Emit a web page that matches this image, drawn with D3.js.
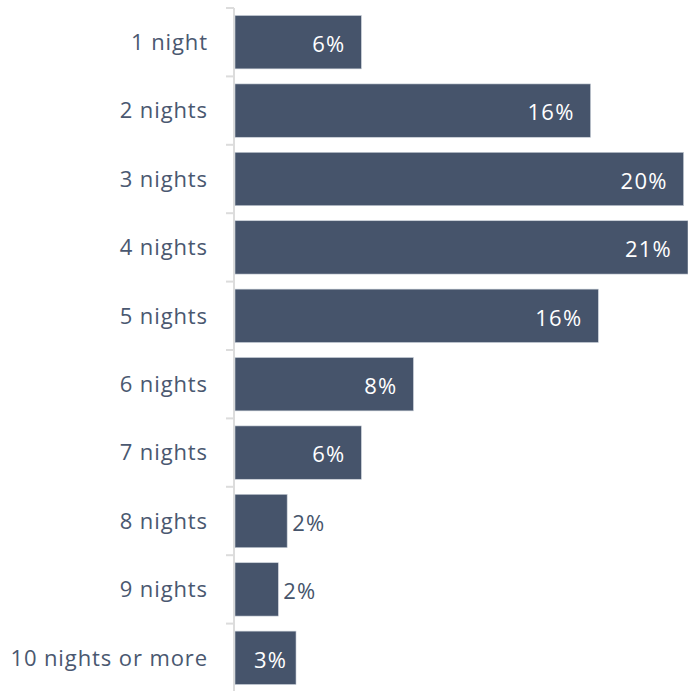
<!DOCTYPE html>
<html lang="en">
<head>
<meta charset="UTF-8">
<title>Length of stay</title>
<script src="https://d3js.org/d3.v7.min.js"></script>
<style>
  * { margin: 0; padding: 0; }
  body { background: #fff; font-family: "Open Sans", sans-serif; }
  .cat { font-size: 22px; fill: #4a5870; letter-spacing: 0.9px; }
  .val { font-size: 22px; letter-spacing: 1.2px; }
</style>
</head>
<body>
<svg></svg>
<script>
// data
const categories = ["1 night", "2 nights", "3 nights", "4 nights", "5 nights",
  "6 nights", "7 nights", "8 nights", "9 nights", "10 nights or more"];
const values = [5.75, 16.1, 20.3, 20.5, 16.45, 8.1, 5.75, 2.4, 2.0, 2.8];
const labels = ["6%", "16%", "20%", "21%", "16%", "8%", "6%", "2%", "2%", "3%"];

const W = 688, H = 691;
const svg = d3.select("svg").attr("width", W).attr("height", H);

const x0 = 234;
const x = d3.scaleLinear().domain([0, 20.5]).range([x0, 688]);
const y = d3.scaleBand().domain(categories).range([8, 692]).paddingInner(0.22).paddingOuter(0.11);

// axis line and ticks between bands
const step = y.step();
svg.append("line")
  .attr("x1", x0).attr("x2", x0).attr("y1", 8).attr("y2", H)
  .attr("stroke", "#dcdcdc").attr("stroke-width", 2);
svg.selectAll(".tick").data(d3.range(categories.length + 1))
  .enter().append("line")
  .attr("x1", x0 - 8).attr("x2", x0)
  .attr("y1", i => 8 + i * step).attr("y2", i => 8 + i * step)
  .attr("stroke", "#dcdcdc").attr("stroke-width", 2);

// bars
svg.selectAll(".bar").data(values).enter().append("rect")
  .attr("x", x0 + 1)
  .attr("y", (d, i) => y(categories[i]))
  .attr("width", d => x(d) - x0 - 1)
  .attr("height", y.bandwidth())
  .attr("fill", "#46546b")
  .attr("stroke", "#c9cfd8").attr("stroke-width", 0.6);

// category labels
svg.selectAll(".cat").data(categories).enter().append("text")
  .attr("class", "cat")
  .attr("x", 208)
  .attr("y", d => y(d) + y.bandwidth() / 2)
  .attr("dy", "0.35em")
  .attr("text-anchor", "end")
  .text(d => d);

// value labels
const vals = svg.selectAll(".val").data(values).enter().append("text")
  .attr("class", "val")
  .attr("y", (d, i) => y(categories[i]) + y.bandwidth() / 2 + 2)
  .attr("dy", "0.35em")
  .text((d, i) => labels[i]);

vals.each(function(d) {
  const t = d3.select(this);
  const tw = this.getComputedTextLength();
  const end = x(d);
  if (end - x0 >= tw + 26) {
    t.attr("text-anchor", "end")
     .attr("x", Math.max(end - 16, x0 + 20 + tw))
     .attr("fill", "#fff");
  } else {
    t.attr("text-anchor", "start")
     .attr("x", end + 5)
     .attr("fill", "#46546b");
  }
});
</script>
</body>
</html>
